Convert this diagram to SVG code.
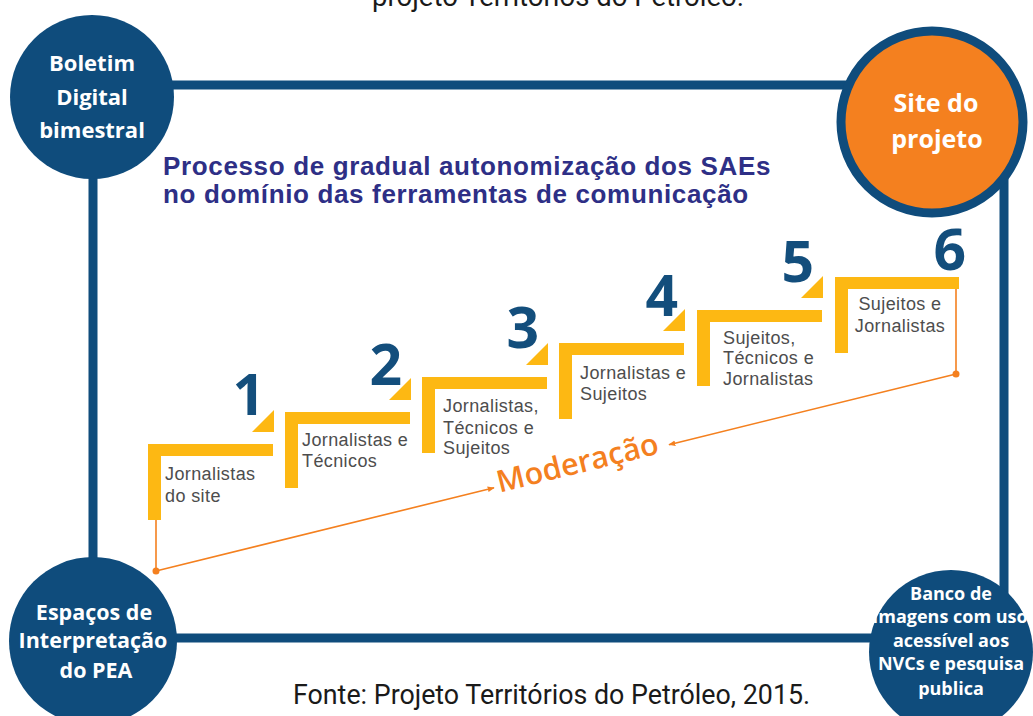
<svg xmlns="http://www.w3.org/2000/svg" width="1033" height="716" viewBox="0 0 1033 716">
<style>
.frame{stroke:#0f4c7c;stroke-width:9;fill:none}
.hub{fill:#0f4c7c}
.hubtxt{font-family:"Open Sans","Liberation Sans",sans-serif;font-weight:700;fill:#ffffff;text-anchor:middle}
.bar{fill:#fdb813}
.num{font-family:"Open Sans","Liberation Sans",sans-serif;font-weight:700;font-size:57px;fill:#134e7c;text-anchor:end}
.lbl{font-family:"Liberation Sans",Arial,sans-serif;font-size:18px;fill:#4d4d4d;letter-spacing:0.4px}
.title{font-family:"Liberation Sans",Arial,sans-serif;font-weight:700;font-size:26px;fill:#2e2f86;letter-spacing:0.65px}
.cap{font-family:Roboto,"Liberation Sans",sans-serif;fill:#1a1a1a}
.mod{stroke:#f4801f;stroke-width:1.6;fill:none}
</style>
<defs>
<marker id="arr" viewBox="0 0 10 10" refX="9" refY="5" markerWidth="7" markerHeight="7" orient="auto" markerUnits="userSpaceOnUse">
<path d="M0,1 L10,5 L0,9 z" fill="#f4801f"/>
</marker>
</defs>
<rect width="1033" height="716" fill="#ffffff"/>
<text class="cap" font-size="27.5" x="558" y="6" text-anchor="middle">projeto Territórios do Petróleo.</text>

<g id="frame">
<line class="frame" x1="150" y1="85" x2="860" y2="85"/>
<line class="frame" x1="93" y1="150" x2="93" y2="600"/>
<line class="frame" x1="150" y1="638" x2="900" y2="638"/>
<line class="frame" x1="1004" y1="170" x2="1004" y2="610"/>
</g>

<g id="connectors">
<line class="mod" x1="156" y1="520" x2="156" y2="571"/>
<line class="mod" x1="956" y1="289" x2="956" y2="374"/>
<line class="mod" x1="156" y1="571" x2="494" y2="487.8" marker-end="url(#arr)"/>
<line class="mod" x1="956" y1="374" x2="669" y2="444.7" marker-end="url(#arr)"/>
<circle cx="156" cy="571" r="3.5" fill="#f4801f"/>
<circle cx="956" cy="374" r="3.5" fill="#f4801f"/>
<text x="580" y="473" transform="rotate(-13.83 580 473)" text-anchor="middle" font-family="'Open Sans','Liberation Sans',sans-serif" font-weight="600" font-size="30.5" fill="#f4801f">Moderação</text>
</g>

<g id="boletim">
<circle class="hub" cx="92" cy="97" r="82"/>
<text class="hubtxt" font-size="22" x="92" y="71">Boletim</text>
<text class="hubtxt" font-size="22" x="92" y="105">Digital</text>
<text class="hubtxt" font-size="22" x="92" y="138">bimestral</text>
</g>

<g id="site">
<circle cx="932" cy="122" r="91" fill="#f4801f" stroke="#0f4c7c" stroke-width="9"/>
<text class="hubtxt" font-size="25" x="936" y="112">Site do</text>
<text class="hubtxt" font-size="25" x="937" y="148">projeto</text>
</g>

<g id="espacos">
<circle class="hub" cx="93" cy="641" r="84"/>
<text class="hubtxt" font-size="21.5" x="94" y="620">Espaços de</text>
<text class="hubtxt" font-size="21.5" x="93" y="648">Interpretação</text>
<text class="hubtxt" font-size="21.5" x="96" y="678">do PEA</text>
</g>

<g id="banco">
<circle class="hub" cx="951" cy="652" r="82"/>
<text class="hubtxt" font-size="18" x="951" y="600">Banco de</text>
<text class="hubtxt" font-size="18" x="950" y="623">Imagens com uso</text>
<text class="hubtxt" font-size="18" x="951" y="647">acessível aos</text>
<text class="hubtxt" font-size="18" x="951" y="670">NVCs e pesquisa</text>
<text class="hubtxt" font-size="18" x="951" y="695">publica</text>
</g>

<g id="title">
<text class="title" x="163" y="175">Processo de gradual autonomização dos SAEs</text>
<text class="title" x="163" y="203">no domínio das ferramentas de comunicação</text>
</g>

<g id="step1">
<path class="bar" d="M148,444 H273 V456 H161 V520 H148 Z"/>
<path class="bar" d="M252,432 H274 V410 Z"/>
<text class="num" x="265" y="415">1</text>
<text class="lbl" x="165" y="480">Jornalistas</text>
<text class="lbl" x="165" y="502">do site</text>
</g>

<g id="step2">
<path class="bar" d="M285,412 H410 V424 H298 V488 H285 Z"/>
<path class="bar" d="M389,400 H411 V378 Z"/>
<text class="num" x="402" y="385">2</text>
<text class="lbl" x="302" y="446">Jornalistas e</text>
<text class="lbl" x="302" y="467">Técnicos</text>
</g>

<g id="step3">
<path class="bar" d="M422,377 H547 V389 H435 V453 H422 Z"/>
<path class="bar" d="M526,365 H548 V343 Z"/>
<text class="num" x="539" y="348">3</text>
<text class="lbl" x="443" y="412">Jornalistas,</text>
<text class="lbl" x="443" y="434">Técnicos e</text>
<text class="lbl" x="443" y="454">Sujeitos</text>
</g>

<g id="step4">
<path class="bar" d="M559,343 H684 V355 H572 V419 H559 Z"/>
<path class="bar" d="M663,331 H685 V309 Z"/>
<text class="num" x="678" y="316">4</text>
<text class="lbl" x="580" y="379">Jornalistas e</text>
<text class="lbl" x="580" y="400">Sujeitos</text>
</g>

<g id="step5">
<path class="bar" d="M697,310 H822 V322 H710 V386 H697 Z"/>
<path class="bar" d="M801,298 H823 V276 Z"/>
<text class="num" x="814" y="282">5</text>
<text class="lbl" x="723" y="344">Sujeitos,</text>
<text class="lbl" x="723" y="364">Técnicos e</text>
<text class="lbl" x="723" y="385">Jornalistas</text>
</g>

<g id="step6">
<path class="bar" d="M835,277 H959 V289 H848 V353 H835 Z"/>
<text class="num" x="966" y="270">6</text>
<text class="lbl" x="900" y="310" text-anchor="middle">Sujeitos e</text>
<text class="lbl" x="900" y="332" text-anchor="middle">Jornalistas</text>
</g>

<text class="cap" font-size="26.8" x="293" y="704">Fonte: Projeto Territórios do Petróleo, 2015.</text>
</svg>
